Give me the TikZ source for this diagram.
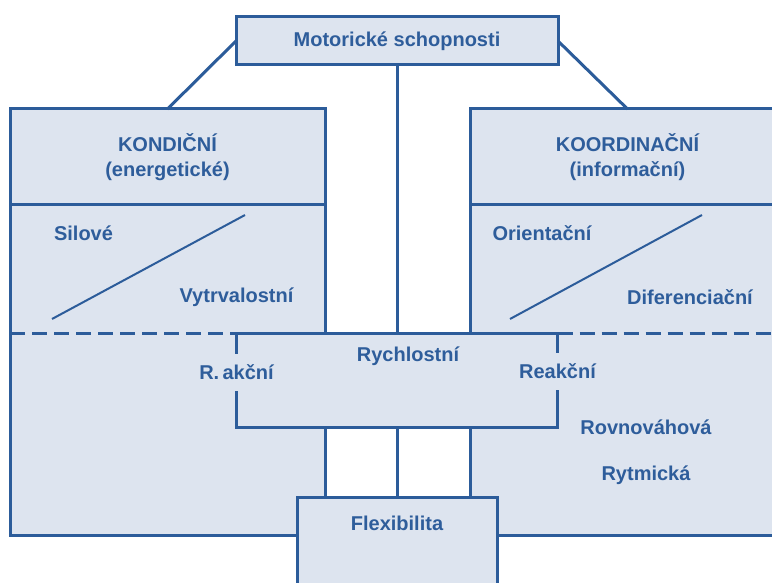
\documentclass[tikz,border=0pt]{standalone}
\usepackage{fontspec}
\setmainfont{Liberation Sans}
\usetikzlibrary{calc, positioning}
\definecolor{boxline}{HTML}{2C5C9A}
\definecolor{boxfill}{HTML}{DDE4EF}
\definecolor{boxtext}{HTML}{2E5D9B}

\begin{document}
\begin{tikzpicture}[x=1pt, y=-1pt, every node/.style={font=\fontsize{20}{25}\selectfont\bfseries, text=boxtext}]
  \tikzset{box/.style={draw=boxline, fill=boxfill, line width=3pt, outer sep=0pt, inner sep=0pt, align=center},
           cut/.style={fill=boxfill, minimum height=37pt, inner xsep=2pt, inner ysep=0pt},
           link/.style={draw=boxline, line width=3pt},
           slash/.style={draw=boxline, line width=2pt}}
  \clip (0,0) rectangle (772,583);
  \fill[white] (0,0) rectangle (772,583);

  % main groups
  \node[box, minimum width=322pt, minimum height=48pt] (motor) at (397,41) {Motorické schopnosti};
  \node[box, minimum width=315pt, minimum height=96pt] (kondhead) at (167.5,157) {KONDIČNÍ\\(energetické)};
  \node[box, minimum width=315pt, minimum height=330pt, below=0pt of kondhead] (kondbody) {};
  \node[box, minimum width=315pt, minimum height=96pt] (koorhead) at (627.5,157) {KOORDINAČNÍ\\(informační)};
  \node[box, minimum width=315pt, minimum height=330pt, below=0pt of koorhead] (koorbody) {};

  % shared boxes over the two groups
  \node[box, minimum width=321pt, minimum height=94pt] (rych) at (397,380) {};
  \node[box, minimum width=200pt, minimum height=110pt, anchor=north] (flex) at (397,497) {};

  % split between the upper and lower part
  \draw[link, dash pattern=on 15pt off 7pt] (kondbody.west |- rych.north) -- (rych.north west);
  \draw[link, dash pattern=on 15pt off 7pt] (rych.north east) -- (koorbody.east |- rych.north);

  \draw[link] (motor.west) -- (kondhead.north);
  \draw[link] (motor.east) -- (koorhead.north);
  \draw[link] (motor.south) -- (rych.north);
  \draw[link] (rych.south) -- (flex.north);

  \coordinate (k1) at (52,319);
  \coordinate (k2) at (245,215);
  \coordinate (o1) at (510,319);
  \coordinate (o2) at (702,215);
  \draw[slash] (k1) -- (k2);
  \draw[slash] (o1) -- (o2);

  % labels
  \node (silove) at (83.5,233) {Silové};
  \node (vytrv) at (236.5,297) {Vytrvalostní};
  \node (orient) at (542,233) {Orientační};
  \node (difer) at (690,297) {Diferenciační};
  \node (rychl) at (408,356) {Rychlostní};
  \node[cut] (akcni) at (rych.west |- 0,372) {R.\,akční};
  \node[cut] (reakcni) at (rych.east |- 0,371) {Reakční};
  \node (rovnov) at (646,427) {Rovnováhová};
  \node (rytm) at (646,475) {Rytmická};
  \node (flexib) at (397,523) {Flexibilita};
\end{tikzpicture}
\end{document}
